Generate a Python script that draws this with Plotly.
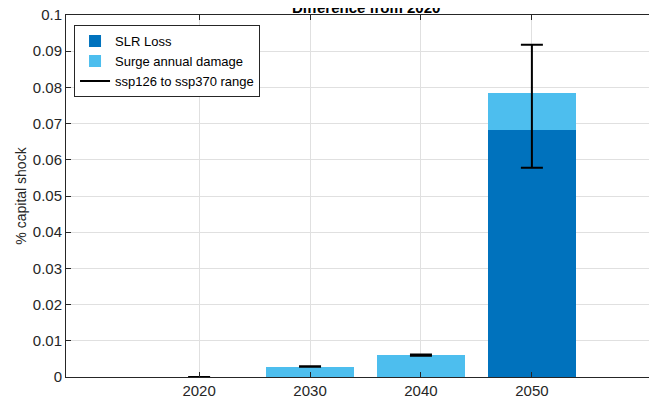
import plotly.graph_objects as go

years = [2020, 2030, 2040, 2050]
slr_loss = [0.0, 0.0, 0.0, 0.0682]
surge_damage = [0.0, 0.00285, 0.0061, 0.0102]
range_low = [0.0, 0.0028, 0.0059, 0.0578]
range_high = [0.0, 0.0030, 0.0062, 0.0918]
y_ticks = [0, 0.01, 0.02, 0.03, 0.04, 0.05, 0.06, 0.07, 0.08, 0.09, 0.1]
y_tick_text = ['0', '0.01', '0.02', '0.03', '0.04', '0.05', '0.06', '0.07', '0.08', '0.09', '0.1']

DARK_BLUE = '#0072BD'
LIGHT_BLUE = '#4DBEEE'
AXIS_COL = '#262626'
GRID_COL = '#e0e0e0'

totals = [a + b for a, b in zip(slr_loss, surge_damage)]
err_plus = [h - t for h, t in zip(range_high, totals)]
err_minus = [t - l for t, l in zip(totals, range_low)]

fig = go.Figure()
fig.add_trace(go.Bar(x = years, y = slr_loss, name = "SLR Loss", width = 8,
    marker = dict(color = DARK_BLUE, line = dict(width = 0))))
fig.add_trace(go.Bar(x = years, y = surge_damage, name = "Surge annual damage", width = 8,
    marker = dict(color = LIGHT_BLUE, line = dict(width = 0))))

# error bars drawn on an invisible scatter, legend entry comes from a dummy line
fig.add_trace(go.Scatter(x = years, y = totals, mode = 'markers', showlegend = False, hoverinfo = 'skip',
    marker = dict(size = 1, color = 'rgba(0,0,0,0)'),
    error_y = dict(type = 'data', symmetric = False, array = err_plus, arrayminus = err_minus,
                   color = '#000000', thickness = 2, width = 11)))
fig.add_trace(go.Scatter(x = [None], y = [None], mode = 'lines', name = "ssp126 to ssp370 range",
    line = dict(color = '#000000', width = 2)))

# page body has an 8px margin, so the plot box is offset to land where the original sits
fig.update_layout(width = 657, height = 400, barmode = 'stack', plot_bgcolor = 'white', paper_bgcolor = 'white',
    margin = dict(l = 58, r = 0, t = 7, b = 31, autoexpand = False),
    font = dict(family = 'Arial', size = 13, color = AXIS_COL),
    legend = dict(x = 0.0134, y = 0.972, xanchor = 'left', yanchor = 'top', bgcolor = 'white',
                  bordercolor = AXIS_COL, borderwidth = 1, font = dict(size = 13, color = '#000000'),
                  itemwidth = 30, traceorder = 'normal', tracegroupgap = 0),
    showlegend = True)

fig.add_annotation(text = "<b>Difference from 2020</b>", x = 2035, xref = 'x', y = 1, yref = 'paper',
    xanchor = 'center', yanchor = 'bottom', yshift = -3, showarrow = False,
    font = dict(size = 15, color = '#000000'))

fig.update_xaxes(range = [2008, 2062], tickvals = years, ticktext = [str(y) for y in years],
    showgrid = True, gridcolor = GRID_COL, gridwidth = 1, zeroline = False, automargin = False,
    showline = True, linecolor = AXIS_COL, linewidth = 1, mirror = 'ticks',
    ticks = 'inside', ticklen = 5, tickcolor = AXIS_COL, tickfont = dict(size = 15, color = AXIS_COL))
fig.update_yaxes(range = [0, 0.1], tickvals = y_ticks, ticktext = y_tick_text, ticklabeloverflow = 'allow',
    showgrid = True, gridcolor = GRID_COL, gridwidth = 1, zeroline = False, automargin = False,
    showline = True, linecolor = AXIS_COL, linewidth = 1,
    ticks = 'inside', ticklen = 5, tickcolor = AXIS_COL, tickfont = dict(size = 15, color = AXIS_COL),
    title = dict(text = "% capital shock", font = dict(size = 14, color = AXIS_COL), standoff = 2))

fig.write_html("out.html")
